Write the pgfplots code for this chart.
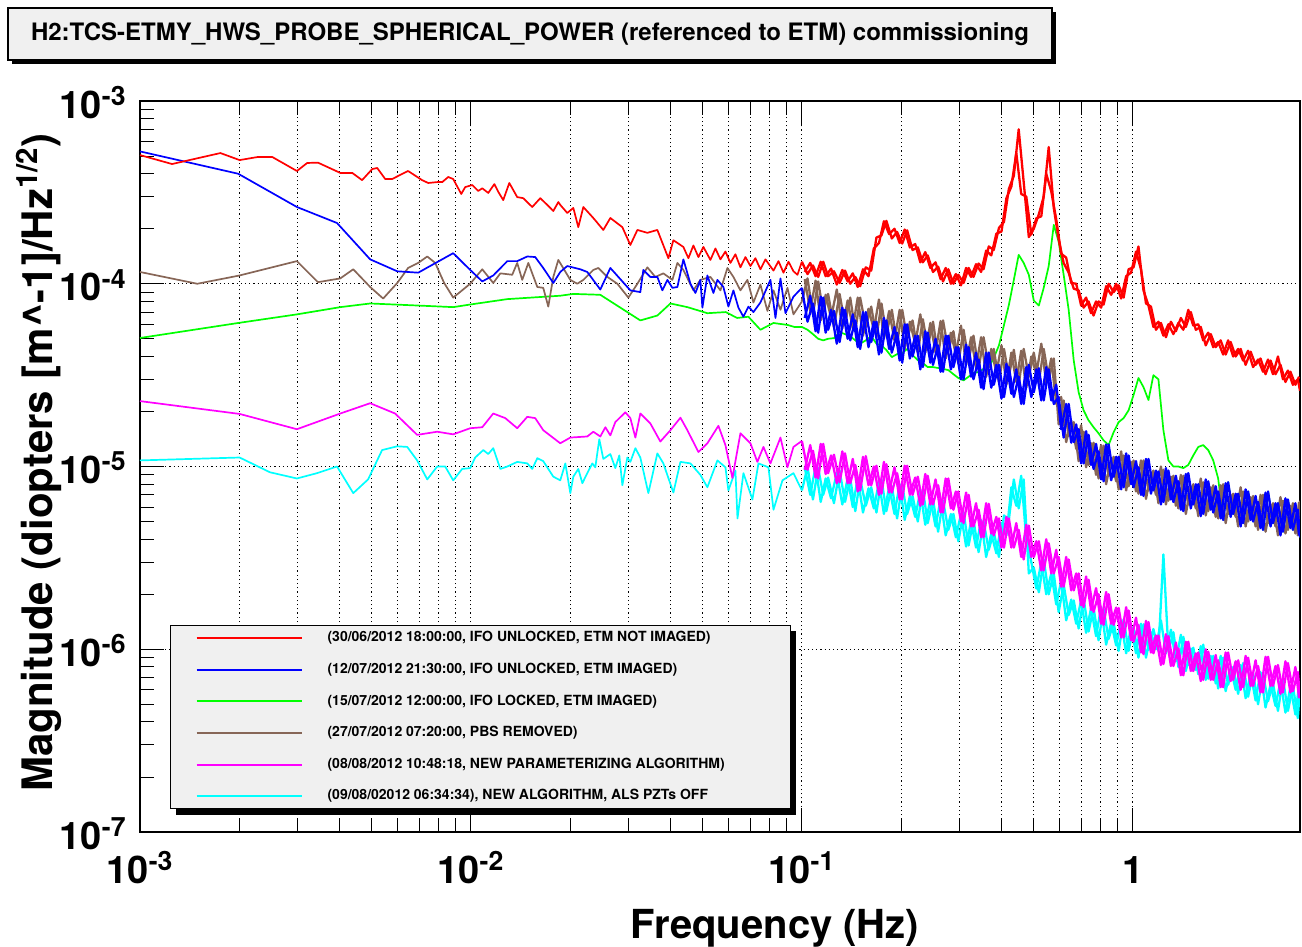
\documentclass[border=0pt]{standalone}
\usepackage{fontspec}
\setmainfont{TeX Gyre Heros}
\usepackage{pgfplots}
\pgfplotsset{compat=1.18}
\usepackage{pgfplotstable}
\definecolor{rootred}{RGB}{255,0,0}
\definecolor{rootblue}{RGB}{0,0,255}
\definecolor{rootgreen}{RGB}{0,255,0}
\definecolor{rootbrown}{RGB}{135,102,87}
\definecolor{rootmagenta}{RGB}{255,0,255}
\definecolor{rootcyan}{RGB}{0,255,255}
\definecolor{boxgray}{RGB}{240,240,240}

\pgfplotstableread{
f r b g n m c
0.100 1.32e-4 9.5e-5 5.8e-5 8.0e-5 1.38e-5 7.4e-6
0.104 1.13e-4 6.2e-5 5.6e-5 1.07e-4 9.6e-6 9.9e-6
0.108 1.26e-4 7.8e-5 5.3e-5 6.8e-5 1.22e-5 6.6e-6
0.112 1.09e-4 5.4e-5 5.0e-5 1.03e-4 8.6e-6 9.8e-6
0.116 1.32e-4 8.4e-5 4.9e-5 7.0e-5 1.33e-5 7.0e-6
0.120 1.10e-4 5.6e-5 5.0e-5 8.8e-5 9.2e-6 8.7e-6
0.125 1.17e-4 7.1e-5 5.04e-5 5.8e-5 1.16e-5 6.3e-6
0.130 1.01e-4 4.8e-5 5.44e-5 8.8e-5 8.2e-6 9.5e-6
0.135 1.18e-4 7.2e-5 5.3e-5 6.0e-5 1.18e-5 6.4e-6
0.140 1.0e-4 4.9e-5 5.17e-5 8.4e-5 8.1e-6 8.6e-6
0.145 1.09e-4 6.3e-5 4.9e-5 5.5e-5 1.02e-5 5.7e-6
0.150 9.7e-5 4.4e-5 4.7e-5 8.4e-5 7.4e-6 8.5e-6
0.156 1.23e-4 7.0e-5 4.9e-5 5.8e-5 1.14e-5 6.1e-6
0.162 1.18e-4 4.8e-5 5.17e-5 7.5e-5 7.9e-6 7.7e-6
0.168 1.79e-4 6.2e-5 4.7e-5 5.1e-5 1.01e-5 5.6e-6
0.174 1.84e-4 4.2e-5 4.6e-5 7.8e-5 7.1e-6 8.5e-6
0.180 2.21e-4 6.3e-5 4.34e-5 5.3e-5 1.03e-5 5.7e-6
0.187 1.77e-4 4.2e-5 3.97e-5 7.2e-5 7.2e-6 7.8e-6
0.194 1.92e-4 5.4e-5 4.12e-5 4.7e-5 9.2e-6 5.2e-6
0.201 1.66e-4 3.7e-5 4.17e-5 7.2e-5 6.6e-6 7.9e-6
0.208 1.96e-4 6.0e-5 4.4e-5 5.0e-5 1.01e-5 5.5e-6
0.216 1.53e-4 4.0e-5 4.07e-5 6.3e-5 7.0e-6 6.9e-6
0.224 1.58e-4 5.2e-5 3.82e-5 4.2e-5 8.8e-6 5.0e-6
0.232 1.31e-4 3.5e-5 3.68e-5 6.4e-5 6.2e-6 7.5e-6
0.240 1.43e-4 5.4e-5 3.5e-5 4.5e-5 8.9e-6 4.9e-6
0.249 1.16e-4 3.6e-5 3.5e-5 6.2e-5 6.2e-6 6.6e-6
0.258 1.24e-4 4.6e-5 3.46e-5 4.0e-5 7.9e-6 4.4e-6
0.267 1.03e-4 3.3e-5 3.42e-5 6.3e-5 5.6e-6 6.5e-6
0.277 1.20e-4 5.2e-5 3.37e-5 4.3e-5 8.6e-6 4.5e-6
0.287 1.0e-4 3.5e-5 3.2e-5 5.5e-5 5.8e-6 5.5e-6
0.297 1.12e-4 4.5e-5 3.05e-5 3.65e-5 7.3e-6 3.9e-6
0.308 1.01e-4 3.0e-5 2.96e-5 5.6e-5 4.9e-6 5.6e-6
0.319 1.22e-4 4.5e-5 3.1e-5 3.8e-5 7.0e-6 3.7e-6
0.330 1.09e-4 3.0e-5 3.25e-5 5.2e-5 4.7e-6 5.1e-6
0.342 1.29e-4 3.85e-5 3.29e-5 3.4e-5 5.8e-6 3.4e-6
0.354 1.20e-4 2.65e-5 3.42e-5 5.1e-5 4.1e-6 5.0e-6
0.367 1.60e-4 4.2e-5 3.5e-5 3.5e-5 6.25e-6 3.5e-6
0.380 1.53e-4 2.8e-5 3.92e-5 4.4e-5 4.2e-6 4.4e-6
0.394 2.02e-4 3.6e-5 4.6e-5 2.9e-5 5.2e-6 3.2e-6
0.408 2.18e-4 2.4e-5 5.94e-5 4.4e-5 3.6e-6 5.4e-6
0.422 3.3e-4 3.5e-5 7.64e-5 3.1e-5 5.2e-6 5.1e-6
0.437 3.9e-4 2.4e-5 1.05e-4 4.35e-5 3.6e-6 8.5e-6
0.452 7.0e-4 3.1e-5 1.44e-4 2.8e-5 4.5e-6 5.9e-6
0.468 3.6e-4 2.2e-5 1.3e-4 4.4e-5 3.1e-6 8.5e-6
0.485 1.8e-4 3.6e-5 1.12e-4 3.1e-5 4.75e-6 2.6e-6
0.502 2.0e-4 2.55e-5 8.1e-5 4.2e-5 3.2e-6 2.8e-6
0.520 2.4e-4 3.45e-5 7.6e-5 2.9e-5 3.9e-6 2.05e-6
0.538 3.0e-4 2.3e-5 9.5e-5 4.4e-5 2.7e-6 3.1e-6
0.557 5.6e-4 3.4e-5 1.25e-4 3.0e-5 3.8e-6 2.0e-6
0.577 2.6e-4 2.2e-5 2.1e-4 3.9e-5 2.6e-6 2.6e-6
0.597 1.75e-4 2.4e-5 1.7e-4 1.7e-5 3.2e-6 1.6e-6
0.618 1.3e-4 1.44e-5 1.12e-4 2.3e-5 2.2e-6 2.26e-6
0.640 1.15e-4 2.2e-5 7.2e-5 1.47e-5 3.1e-6 1.54e-6
0.663 9.4e-5 1.36e-5 3.8e-5 1.75e-5 2.1e-6 1.85e-6
0.686 9.2e-5 1.6e-5 2.55e-5 1.07e-5 2.6e-6 1.3e-6
0.710 7.4e-5 1.04e-5 2.03e-5 1.55e-5 1.7e-6 1.9e-6
0.735 8.0e-5 1.49e-5 1.79e-5 1.02e-5 2.4e-6 1.25e-6
0.761 6.7e-5 9.7e-6 1.64e-5 1.35e-5 1.6e-6 1.69e-6
0.788 8.0e-5 1.21e-5 1.52e-5 8.6e-6 2.0e-6 1.12e-6
0.816 7.7e-5 8.3e-6 1.39e-5 1.3e-5 1.36e-6 1.66e-6
0.845 1.0e-4 1.32e-5 1.31e-5 8.9e-6 2.0e-6 1.14e-6
0.875 9.0e-5 8.8e-6 1.54e-5 1.13e-5 1.36e-6 1.4e-6
0.906 9.8e-5 1.13e-5 1.75e-5 7.5e-6 1.68e-6 9.8e-7
0.938 8.4e-5 7.7e-6 1.84e-5 1.15e-5 1.16e-6 1.46e-6
0.971 1.2e-4 1.15e-5 2.03e-5 7.8e-6 1.63e-6 9.8e-7
1.005 1.23e-4 7.7e-6 2.46e-5 1.08e-5 1.1e-6 1.33e-6
1.040 1.6e-4 9.9e-6 3.05e-5 7.1e-6 1.36e-6 9.0e-7
1.077 9.2e-5 6.9e-6 2.72e-5 1.08e-5 9.4e-7 1.37e-6
1.115 7.6e-5 1.1e-5 2.31e-5 7.4e-6 1.41e-6 9.9e-7
1.154 5.8e-5 7.4e-6 3.16e-5 9.5e-6 9.5e-7 1.29e-6
1.195 6.2e-5 9.4e-6 3.0e-5 6.3e-6 1.19e-6 9.8e-7
1.237 5.2e-5 6.4e-6 1.58e-5 9.6e-6 8.3e-7 3.3e-6
1.281 6.0e-5 9.5e-6 1.08e-5 6.5e-6 1.18e-6 9.8e-7
1.326 5.3e-5 6.4e-6 1.0e-5 8.9e-6 8.1e-7 1.24e-6
1.373 6.1e-5 8.3e-6 1.0e-5 5.9e-6 1.01e-6 8.0e-7
1.421 5.6e-5 5.7e-6 9.8e-6 8.9e-6 7.2e-7 1.17e-6
1.471 7.2e-5 9.2e-6 1.02e-5 6.2e-6 1.1e-6 8.2e-7
1.523 5.9e-5 6.2e-6 1.15e-5 8.0e-6 7.6e-7 1.02e-6
1.577 6.0e-5 8.0e-6 1.28e-5 5.35e-6 9.6e-7 7.3e-7
1.632 4.9e-5 5.5e-6 1.31e-5 8.2e-6 6.8e-7 1.06e-6
1.690 5.4e-5 8.3e-6 1.23e-5 5.7e-6 9.7e-7 6.9e-7
1.750 4.5e-5 5.6e-6 1.08e-5 7.9e-6 6.8e-7 9.2e-7
1.811 4.8e-5 7.3e-6 8.6e-6 5.2e-6 8.7e-7 6.1e-7
1.875 4.1e-5 5.1e-6 5.1e-6 8.0e-6 6.2e-7 9.0e-7
1.941 4.9e-5 8.2e-6 8.2e-6 5.5e-6 9.6e-7 6.4e-7
2.010 4.0e-5 5.5e-6 5.5e-6 7.1e-6 6.8e-7 8.0e-7
2.081 4.4e-5 7.1e-6 7.1e-6 4.7e-6 8.7e-7 5.7e-7
2.154 3.8e-5 4.9e-6 4.9e-6 7.3e-6 6.2e-7 8.4e-7
2.230 4.3e-5 7.3e-6 7.3e-6 5.0e-6 9.0e-7 5.5e-7
2.309 3.5e-5 5.0e-6 5.0e-6 6.9e-6 6.3e-7 7.4e-7
2.390 3.85e-5 6.4e-6 6.4e-6 4.5e-6 8.1e-7 5.0e-7
2.474 3.3e-5 4.5e-6 4.5e-6 7.0e-6 5.8e-7 7.3e-7
2.562 3.85e-5 7.3e-6 7.3e-6 4.9e-6 9.1e-7 5.2e-7
2.652 3.2e-5 4.9e-6 4.9e-6 6.3e-6 6.3e-7 6.5e-7
2.745 4.0e-5 6.3e-6 6.3e-6 4.2e-6 8.2e-7 4.6e-7
2.842 3.0e-5 4.4e-6 4.4e-6 6.5e-6 5.8e-7 6.9e-7
2.942 3.35e-5 6.6e-6 6.6e-6 4.5e-6 8.4e-7 4.6e-7
3.046 2.8e-5 4.5e-6 4.5e-6 6.3e-6 5.9e-7 6.3e-7
3.153 3.0e-5 5.8e-6 5.8e-6 4.2e-6 7.5e-7 4.2e-7
3.200 2.6e-5 4.1e-6 4.1e-6 6.5e-6 5.4e-7 6.3e-7
}\hightab

\pgfplotstableread{
f r b n m c
0.102 1.16e-4 6.5e-5 1.06e-4 9.6e-6 9.9e-6
0.106 1.30e-4 8.6e-5 7.1e-5 1.31e-5 7.0e-6
0.110 1.10e-4 5.5e-5 1.04e-4 8.7e-6 1.0e-5
0.114 1.32e-4 8.5e-5 6.3e-5 1.33e-5 6.4e-6
0.118 1.10e-4 5.4e-5 8.7e-5 9.1e-6 8.6e-6
0.1225 1.21e-4 7.2e-5 6.5e-5 1.15e-5 6.7e-6
0.1275 9.9e-5 4.7e-5 9.3e-5 8.1e-6 9.2e-6
0.1325 1.19e-4 7.4e-5 5.7e-5 1.21e-5 6.2e-6
0.1375 1.03e-4 5.0e-5 8.1e-5 8.1e-6 8.6e-6
0.1425 1.14e-4 6.8e-5 5.7e-5 1.1e-5 6.0e-6
0.1475 9.6e-5 4.5e-5 8.4e-5 7.3e-6 8.7e-6
0.153 1.20e-4 7.0e-5 5.2e-5 1.13e-5 5.6e-6
0.159 1.10e-4 4.5e-5 7.3e-5 7.9e-6 7.6e-6
0.165 1.56e-4 6.2e-5 5.6e-5 1.0e-5 5.9e-6
0.171 1.67e-4 4.1e-5 8.2e-5 7.0e-6 8.2e-6
0.177 2.20e-4 6.5e-5 5.0e-5 1.06e-5 5.5e-6
0.1835 1.87e-4 4.4e-5 7.1e-5 7.2e-6 7.7e-6
0.1905 2.00e-4 5.8e-5 4.9e-5 9.9e-6 5.5e-6
0.1975 1.67e-4 3.8e-5 7.2e-5 6.6e-6 8.0e-6
0.2045 1.98e-4 6.0e-5 4.4e-5 1.01e-5 5.1e-6
0.212 1.58e-4 3.9e-5 6.2e-5 7.0e-6 6.9e-6
0.220 1.65e-4 5.2e-5 4.7e-5 8.7e-6 5.3e-6
0.228 1.31e-4 3.4e-5 6.8e-5 6.1e-6 7.3e-6
0.236 1.49e-4 5.5e-5 4.2e-5 9.1e-6 4.8e-6
0.2445 1.22e-4 3.7e-5 6.1e-5 6.2e-6 6.6e-6
0.2535 1.31e-4 5.0e-5 4.2e-5 8.5e-6 4.7e-6
0.2625 1.06e-4 3.3e-5 6.25e-5 5.6e-6 6.6e-6
0.272 1.22e-4 5.2e-5 3.9e-5 8.6e-6 4.2e-6
0.282 1.0e-4 3.4e-5 5.4e-5 5.9e-6 5.5e-6
0.292 1.13e-4 4.5e-5 4.1e-5 7.3e-6 4.1e-6
0.3025 9.8e-5 3.0e-5 5.9e-5 5.0e-6 5.5e-6
0.3135 1.22e-4 4.65e-5 3.6e-5 7.2e-6 3.65e-6
0.3245 1.09e-4 3.1e-5 5.1e-5 4.7e-6 5.0e-6
0.336 1.28e-4 4.2e-5 3.5e-5 6.3e-6 3.6e-6
0.348 1.16e-4 2.7e-5 5.1e-5 4.1e-6 5.1e-6
0.3605 1.52e-4 4.2e-5 3.1e-5 6.3e-6 3.2e-6
0.3735 1.43e-4 2.7e-5 4.4e-5 4.3e-6 4.3e-6
0.387 1.88e-4 3.6e-5 3.25e-5 5.3e-6 3.35e-6
0.401 1.93e-4 2.35e-5 4.6e-5 3.6e-6 4.9e-6
0.415 2.94e-4 3.65e-5 2.8e-5 5.3e-6 4.2e-6
0.4295 3.4e-4 2.5e-5 4.2e-5 3.6e-6 7.7e-6
0.4445 5.2e-4 3.4e-5 2.9e-5 4.9e-6 6.1e-6
0.460 3.1e-4 2.2e-5 4.3e-5 3.2e-6 8.9e-6
0.4765 3.0e-4 3.5e-5 2.7e-5 4.8e-6 4.0e-6
0.4935 1.86e-4 2.4e-5 4.0e-5 3.2e-6 3.0e-6
0.511 2.28e-4 3.4e-5 3.2e-5 3.9e-6 2.15e-6
0.529 2.34e-4 2.3e-5 4.7e-5 2.7e-6 3.0e-6
0.5475 4.0e-4 3.5e-5 2.85e-5 4.0e-6 2.0e-6
0.567 3.2e-4 2.3e-5 3.9e-5 2.6e-6 2.6e-6
0.587 2.25e-4 2.8e-5 2.2e-5 3.5e-6 1.76e-6
0.6075 1.46e-4 1.6e-5 2.4e-5 2.2e-6 2.36e-6
0.629 1.39e-4 2.2e-5 1.36e-5 3.2e-6 1.44e-6
0.6515 1.01e-4 1.35e-5 1.78e-5 2.1e-6 1.87e-6
0.6745 1.0e-4 1.7e-5 1.25e-5 2.6e-6 1.38e-6
0.698 7.6e-5 1.04e-5 1.68e-5 1.74e-6 1.86e-6
0.7225 8.4e-5 1.56e-5 9.9e-6 2.5e-6 1.23e-6
0.748 6.9e-5 1.02e-5 1.34e-5 1.64e-6 1.68e-6
0.7745 8.0e-5 1.33e-5 9.0e-6 2.16e-6 1.18e-6
0.802 7.4e-5 8.5e-6 1.31e-5 1.38e-6 1.7e-6
0.8305 9.7e-5 1.32e-5 8.0e-6 2.06e-6 1.06e-6
0.860 8.7e-5 8.4e-6 1.11e-5 1.38e-6 1.4e-6
0.8905 1.0e-4 1.13e-5 8.3e-6 1.69e-6 1.05e-6
0.922 8.3e-5 7.5e-6 1.21e-5 1.16e-6 1.42e-6
0.9545 1.1e-4 1.18e-5 7.4e-6 1.7e-6 9.5e-7
0.988 1.15e-4 8.0e-6 1.06e-5 1.12e-6 1.32e-6
1.0225 1.5e-4 1.07e-5 7.3e-6 1.49e-6 9.5e-7
1.0585 1.2e-4 7.0e-6 1.08e-5 9.6e-7 1.38e-6
1.096 7.8e-5 1.1e-5 6.65e-6 1.43e-6 9.0e-7
1.1345 7.5e-5 7.1e-6 9.3e-6 9.6e-7 1.24e-6
1.1745 5.6e-5 9.5e-6 7.0e-6 1.19e-6 1.0e-6
1.216 6.1e-5 6.2e-6 1.0e-5 8.2e-7 1.44e-6
1.259 5.1e-5 9.8e-6 6.2e-6 1.21e-6 9.5e-7
1.3035 6.2e-5 6.6e-6 8.8e-6 8.1e-7 1.28e-6
1.3495 5.5e-5 8.9e-6 6.1e-6 1.09e-6 8.6e-7
1.397 6.5e-5 5.8e-6 9.0e-6 7.2e-7 1.2e-6
1.446 5.8e-5 9.1e-6 5.5e-6 1.1e-6 7.6e-7
1.497 7.0e-5 5.9e-6 7.8e-6 7.6e-7 1.01e-6
1.55 5.6e-5 8.0e-6 5.9e-6 9.5e-7 7.7e-7
1.6045 5.8e-5 5.35e-6 8.6e-6 6.7e-7 1.04e-6
1.661 4.6e-5 8.5e-6 5.4e-6 1.0e-6 6.8e-7
1.72 5.3e-5 5.8e-6 7.7e-6 6.8e-7 9.2e-7
1.7805 4.5e-5 7.8e-6 5.3e-6 9.3e-7 6.5e-7
1.843 4.9e-5 5.2e-6 7.9e-6 6.2e-7 9.2e-7
1.908 4.1e-5 8.1e-6 4.9e-6 9.6e-7 5.9e-7
1.9755 4.8e-5 5.3e-6 7.0e-6 6.7e-7 7.9e-7
2.0455 4.0e-5 7.1e-6 5.3e-6 8.6e-7 6.0e-7
2.1175 4.4e-5 4.7e-6 7.7e-6 6.0e-7 8.2e-7
2.192 3.6e-5 7.5e-6 4.7e-6 9.2e-7 5.4e-7
2.2695 4.25e-5 5.1e-6 6.8e-6 6.3e-7 7.4e-7
2.3495 3.6e-5 6.9e-6 4.7e-6 8.7e-7 5.25e-7
2.432 3.9e-5 4.6e-6 7.0e-6 5.8e-7 7.5e-7
2.518 3.2e-5 7.2e-6 4.4e-6 9.1e-7 4.8e-7
2.607 3.8e-5 4.7e-6 6.2e-6 6.3e-7 6.4e-7
2.6985 3.2e-5 6.3e-6 4.7e-6 8.1e-7 4.9e-7
2.7935 3.6e-5 4.2e-6 6.8e-6 5.7e-7 6.7e-7
2.892 2.9e-5 6.7e-6 4.3e-6 8.6e-7 4.5e-7
2.994 3.3e-5 4.6e-6 6.1e-6 5.8e-7 6.2e-7
3.0995 2.8e-5 6.3e-6 4.3e-6 8.0e-7 4.4e-7
3.18 3.1e-5 4.2e-6 6.4e-6 5.4e-7 6.4e-7
}\midtab

\begin{document}
\begin{tikzpicture}
\useasboundingbox (-70pt,-57.5pt) rectangle (581pt,416pt);
\begin{axis}[
  at={(0pt,0pt)}, anchor=south west,
  scale only axis, width=580pt, height=365.5pt,
  xmode=log, ymode=log,
  xmin=1e-3, xmax=3.2, ymin=1e-7, ymax=1e-3,
  xtick={1e-3,1e-2,1e-1,1},
  xticklabels={10\textsuperscript{-3},10\textsuperscript{-2},10\textsuperscript{-1},1},
  ytick={1e-7,1e-6,1e-5,1e-4,1e-3},
  yticklabels={10\textsuperscript{-7},10\textsuperscript{-6},10\textsuperscript{-5},10\textsuperscript{-4},10\textsuperscript{-3}},
  xtick pos=both, ytick pos=left,
  xmajorgrids=true, xminorgrids=true, ymajorgrids=true, yminorgrids=false,
  grid style={black, line width=0.55pt, dash pattern=on 0.6pt off 1.5pt},
  minor grid style={black, line width=0.55pt, dash pattern=on 0.6pt off 1.5pt},
  major grid style={black, line width=0.55pt, dash pattern=on 0.6pt off 1.5pt},
  major tick length=12pt, minor tick length=7pt,
  tick style={black, line width=0.5pt},
  axis line style={line width=0.9pt},
  tick label style={font=\fontsize{19}{22}\selectfont\bfseries, inner sep=0pt},
  xticklabel style={anchor=base, yshift=-25.5pt},
  yticklabel style={anchor=base east, xshift=-6.5pt, yshift=-8.5pt},
  xlabel={Frequency (Hz)},
  xlabel style={at={(axis description cs:0.5474,-0.145)}, anchor=base, font=\fontsize{20}{24}\selectfont\bfseries, inner sep=0pt},
  ylabel={Magnitude (diopters [m\textasciicircum{}-1]/Hz\textsuperscript{1/2})},
  ylabel style={at={(axis description cs:-0.075,0.5055)}, anchor=base, font=\fontsize{21}{25}\selectfont\bfseries, inner sep=0pt},
  every axis plot/.append style={line width=0.85pt, line join=round},
  noisy/.style={line width=1.15pt},
  legend cell align=left,
  legend image code/.code={\draw[#1] (0pt,0pt) -- (52.5pt,0pt); \path (65pt,0pt);},
  legend style={at={(axis description cs:0.02586,0.2832)}, anchor=north west,
    draw=black, line width=0.6pt, fill=boxgray,
    inner xsep=12.5pt, inner ysep=0.3pt, row sep=3.8pt,
    nodes={inner sep=0pt, minimum height=12pt},
    font=\fontsize{7}{8}\selectfont\bfseries},
]
% ---- green ----
\addplot[rootgreen, forget plot] coordinates {
(0.00100,5.05e-5) (0.00198,6.1e-5) (0.00298,6.8e-5) (0.00403,7.45e-5) (0.00496,7.8e-5)
(0.00693,7.6e-5) (0.00884,7.45e-5) (0.00995,7.7e-5) (0.01288,8.24e-5) (0.01862,8.6e-5)
(0.02039,8.8e-5) (0.02460,8.7e-5) (0.03250,6.3e-5) (0.03659,6.7e-5) (0.04007,7.8e-5)
(0.04508,7.45e-5) (0.05182,6.9e-5) (0.0589,7.0e-5) (0.0637,6.5e-5) (0.06894,6.6e-5)
(0.07496,5.6e-5) (0.08207,6.1e-5) (0.0906,5.95e-5) (0.0950,5.8e-5) (0.100,5.8e-5)};
\addplot[rootgreen, forget plot] table[x=f,y=g] {\hightab};
% ---- brown ----
\addplot[rootbrown, forget plot] coordinates {
(0.00100,1.16e-4) (0.00149,1.0e-4) (0.00200,1.11e-4) (0.00298,1.33e-4) (0.00345,1.02e-4)
(0.00403,1.07e-4) (0.00441,1.2e-4) (0.00496,9.6e-5) (0.00543,8.3e-5) (0.00599,1.01e-4)
(0.00646,1.22e-4) (0.00693,1.3e-4) (0.00738,1.41e-4) (0.0078,1.3e-4) (0.0083,1.01e-4)
(0.00884,8.4e-5) (0.00995,1.0e-4) (0.01082,1.2e-4) (0.01168,1.01e-4) (0.01227,1.14e-4)
(0.01333,1.12e-4) (0.0138,1.3e-4) (0.01429,1.05e-4) (0.01491,1.3e-4) (0.01587,9.6e-5)
(0.01654,9.5e-5) (0.01713,7.5e-5) (0.01774,1.09e-4) (0.01837,1.35e-4) (0.01997,1.05e-4)
(0.02096,1.0e-4) (0.02186,1.05e-4) (0.02343,1.19e-4) (0.02426,1.22e-4) (0.02584,1.09e-4)
(0.02770,1.0e-4) (0.0299,8.4e-5) (0.03184,1.0e-4) (0.03413,1.23e-4) (0.03608,1.09e-4)
(0.03815,1.14e-4) (0.04062,1.05e-4) (0.04206,1.3e-4) (0.04385,1.19e-4) (0.04701,9.2e-5)
(0.04935,1.05e-4) (0.05292,1.09e-4) (0.05674,9.2e-5) (0.05957,1.22e-4) (0.06211,1.09e-4)
(0.06521,9.2e-5) (0.06846,1.05e-4) (0.07139,7.9e-5) (0.07496,9.9e-5) (0.0787,7.1e-5)
(0.08207,9.2e-5) (0.08616,7.2e-5) (0.09045,9.5e-5) (0.09432,6.8e-5) (0.100,8.0e-5)};
\addplot[rootbrown, noisy, forget plot] table[x=f,y=n] {\hightab};
\addplot[rootbrown, noisy, forget plot] table[x=f,y=n] {\midtab};
% ---- blue ----
\addplot[rootblue, forget plot] coordinates {
(0.00100,5.3e-4) (0.00198,4.0e-4) (0.00298,2.63e-4) (0.00394,2.15e-4) (0.00496,1.36e-4)
(0.00599,1.17e-4) (0.00693,1.15e-4) (0.00884,1.47e-4) (0.00995,1.19e-4) (0.01082,1.03e-4)
(0.01168,1.11e-4) (0.01288,1.33e-4) (0.01380,1.33e-4) (0.01480,1.41e-4) (0.01564,1.40e-4)
(0.01654,1.22e-4) (0.01774,1.01e-4) (0.01862,1.16e-4) (0.01955,1.25e-4) (0.02140,1.2e-4)
(0.02247,1.16e-4) (0.02460,9.3e-5) (0.02638,1.22e-4) (0.03032,9.2e-5) (0.03250,9.0e-5)
(0.03319,1.19e-4) (0.03485,1.09e-4) (0.03659,1.09e-4) (0.03789,9.2e-5) (0.03924,1.05e-4)
(0.04062,9.5e-5) (0.04206,9.6e-5) (0.04385,1.36e-4) (0.04605,1.0e-4) (0.04768,8.9e-5)
(0.04935,1.05e-4) (0.05005,7.4e-5) (0.05182,1.11e-4) (0.05404,8.9e-5) (0.05556,1.05e-4)
(0.05793,9.6e-5) (0.05998,7.5e-5) (0.06211,9.2e-5) (0.06431,7.4e-5) (0.06659,6.6e-5)
(0.06894,7.5e-5) (0.07139,7.0e-5) (0.07496,7.9e-5) (0.08035,1.05e-4) (0.08322,6.5e-5)
(0.08616,1.07e-4) (0.08921,6.9e-5) (0.09432,8.5e-5) (0.100,9.5e-5)};
\addplot[rootblue, noisy, forget plot] table[x=f,y=b] {\hightab};
\addplot[rootblue, noisy, forget plot] table[x=f,y=b] {\midtab};
% ---- red ----
\addplot[rootred, forget plot] coordinates {
(0.00100,5.06e-4) (0.00125,4.52e-4) (0.00175,5.19e-4) (0.00200,4.75e-4) (0.00227,4.94e-4)
(0.00251,4.94e-4) (0.00298,4.14e-4) (0.0032,4.58e-4) (0.00345,4.6e-4) (0.00403,4.04e-4)
(0.00438,4.04e-4) (0.00469,3.69e-4) (0.00503,4.24e-4) (0.00521,4.3e-4) (0.00551,3.74e-4)
(0.00578,3.74e-4) (0.00611,3.94e-4) (0.00646,4.14e-4) (0.00712,3.69e-4) (0.00743,3.56e-4)
(0.00791,3.6e-4) (0.00819,3.6e-4) (0.00854,3.84e-4) (0.00884,3.74e-4) (0.00935,3.1e-4)
(0.00961,3.38e-4) (0.01009,3.47e-4) (0.01052,3.22e-4) (0.01082,3.33e-4) (0.01128,3.14e-4)
(0.01177,3.51e-4) (0.01210,3.18e-4) (0.01252,2.87e-4) (0.01306,3.56e-4) (0.01380,2.98e-4)
(0.01439,2.94e-4) (0.01532,2.63e-4) (0.01620,2.94e-4) (0.01701,2.7e-4) (0.01774,2.5e-4)
(0.01837,2.8e-4) (0.01862,2.7e-4) (0.01955,2.44e-4) (0.02039,2.6e-4) (0.02111,2.04e-4)
(0.02186,2.63e-4) (0.02343,2.29e-4) (0.02512,1.97e-4) (0.02638,2.29e-4) (0.02868,2.04e-4)
(0.03032,1.63e-4) (0.03184,1.97e-4) (0.03413,1.9e-4) (0.03659,1.97e-4) (0.03951,1.38e-4)
(0.04090,1.73e-4) (0.04385,1.59e-4) (0.04541,1.38e-4) (0.04701,1.62e-4) (0.04868,1.40e-4)
(0.05040,1.59e-4) (0.05292,1.35e-4) (0.0548,1.56e-4) (0.05674,1.36e-4) (0.05875,1.50e-4)
(0.06083,1.30e-4) (0.06298,1.45e-4) (0.06521,1.23e-4) (0.06752,1.40e-4) (0.06992,1.25e-4)
(0.07239,1.38e-4) (0.07496,1.20e-4) (0.07761,1.36e-4) (0.08207,1.18e-4) (0.08498,1.33e-4)
(0.08799,1.15e-4) (0.09112,1.32e-4) (0.09432,1.17e-4) (0.09698,1.12e-4) (0.100,1.32e-4)};
\addplot[rootred, noisy, forget plot] table[x=f,y=r] {\hightab};
\addplot[rootred, noisy, forget plot] table[x=f,y=r] {\midtab};
% ---- cyan ----
\addplot[rootcyan, forget plot] coordinates {
(0.00100,1.08e-5) (0.00200,1.12e-5) (0.00247,9.3e-6) (0.00298,8.6e-6) (0.00343,9.2e-6)
(0.00394,1.0e-5) (0.00441,7.15e-6) (0.00489,8.5e-6) (0.00539,1.23e-5) (0.00599,1.29e-5)
(0.00642,1.28e-5) (0.00688,1.08e-5) (0.00738,8.5e-6) (0.00791,1.0e-5) (0.00836,1.0e-5)
(0.00884,8.4e-6) (0.00941,9.7e-6) (0.00995,9.8e-6) (0.0103,1.12e-5) (0.0109,1.23e-5)
(0.01128,1.17e-5) (0.01168,1.26e-5) (0.01227,9.7e-6) (0.01288,1.0e-5) (0.0138,1.06e-5)
(0.0148,1.04e-5) (0.01532,9.7e-6) (0.01587,1.11e-5) (0.01654,1.07e-5) (0.01774,8.8e-6)
(0.01862,8.4e-6) (0.01929,1.04e-5) (0.01997,7.15e-6) (0.02039,8.8e-6) (0.02111,9.7e-6)
(0.02171,8.1e-6) (0.02247,9.2e-6) (0.02327,1.04e-5) (0.02376,9.9e-6) (0.02443,1.41e-5)
(0.02512,1.1e-5) (0.02638,1.17e-5) (0.02731,9.8e-6) (0.02808,1.15e-5) (0.02868,7.9e-6)
(0.02969,1.12e-5) (0.03032,1.06e-5) (0.0314,1.26e-5) (0.0325,1.12e-5) (0.03437,7.15e-6)
(0.03659,1.18e-5) (0.03815,1.04e-5) (0.0409,7.2e-6) (0.04296,1.06e-5) (0.04605,1.04e-5)
(0.04935,9.0e-6) (0.05182,7.7e-6) (0.05556,1.08e-5) (0.05875,9.9e-6) (0.05998,7.4e-6)
(0.06298,9.5e-6) (0.06389,5.2e-6) (0.06659,9.2e-6) (0.07089,6.6e-6) (0.07393,1.04e-5)
(0.07925,9.9e-6) (0.08207,5.8e-6) (0.08737,8.4e-6) (0.09432,9.2e-6) (0.100,7.4e-6)};
\addplot[rootcyan, noisy, forget plot] table[x=f,y=c] {\hightab};
\addplot[rootcyan, noisy, forget plot] table[x=f,y=c] {\midtab};
% ---- magenta ----
\addplot[rootmagenta, forget plot] coordinates {
(0.00100,2.28e-5) (0.00200,1.94e-5) (0.00298,1.6e-5) (0.00403,1.95e-5) (0.00496,2.22e-5)
(0.0059,1.95e-5) (0.00688,1.49e-5) (0.00791,1.55e-5) (0.00884,1.5e-5) (0.00995,1.62e-5)
(0.01082,1.64e-5) (0.01168,1.95e-5) (0.0127,1.84e-5) (0.0138,1.62e-5) (0.0148,1.87e-5)
(0.01564,1.84e-5) (0.01654,1.58e-5) (0.01862,1.34e-5) (0.01997,1.44e-5) (0.02247,1.46e-5)
(0.02343,1.55e-5) (0.0246,1.46e-5) (0.02548,1.64e-5) (0.02638,1.48e-5) (0.02731,1.75e-5)
(0.02928,1.98e-5) (0.03032,1.84e-5) (0.0314,1.44e-5) (0.0325,1.95e-5) (0.03485,1.72e-5)
(0.03736,1.37e-5) (0.04007,1.58e-5) (0.04296,1.85e-5) (0.04508,1.58e-5) (0.04868,1.2e-5)
(0.05182,1.34e-5) (0.05595,1.67e-5) (0.05875,1.31e-5) (0.06168,8.65e-6) (0.06521,1.52e-5)
(0.06992,1.34e-5) (0.07338,1.06e-5) (0.07654,1.28e-5) (0.08035,1.04e-5) (0.08616,1.44e-5)
(0.09045,9.9e-6) (0.09432,1.28e-5) (0.100,1.38e-5)};
\addplot[rootmagenta, noisy, forget plot] table[x=f,y=m] {\hightab};
\addplot[rootmagenta, noisy, forget plot] table[x=f,y=m] {\midtab};
% legend shadow (drawn below the legend box)
\fill[black] (axis description cs:0.03103,0.27497) rectangle (axis description cs:0.5655,0.02326);
% ---- legend ----
\addlegendimage{rootred, line width=1pt}
\addlegendentry{\makebox[219pt][l]{(30/06/2012 18:00:00, IFO UNLOCKED, ETM NOT IMAGED)}}
\addlegendimage{rootblue, line width=1pt}
\addlegendentry{\makebox[219pt][l]{(12/07/2012 21:30:00, IFO UNLOCKED, ETM IMAGED)}}
\addlegendimage{rootgreen, line width=1pt}
\addlegendentry{\makebox[219pt][l]{(15/07/2012 12:00:00, IFO LOCKED, ETM IMAGED)}}
\addlegendimage{rootbrown, line width=1pt}
\addlegendentry{\makebox[219pt][l]{(27/07/2012 07:20:00, PBS REMOVED)}}
\addlegendimage{rootmagenta, line width=1pt}
\addlegendentry{\makebox[219pt][l]{(08/08/2012 10:48:18, NEW PARAMETERIZING ALGORITHM)}}
\addlegendimage{rootcyan, line width=1pt}
\addlegendentry{\makebox[219pt][l]{(09/08/02012 06:34:34), NEW ALGORITHM, ALS PZTs OFF}}
\end{axis}
\fill[black] (-64.2pt,384.2pt) rectangle (457.8pt,410.2pt);
\node[draw=black, line width=0.8pt, fill=boxgray, minimum width=522pt, minimum height=26pt,
  inner sep=0pt, font=\fontsize{12}{14}\selectfont\bfseries]
  at (195pt,399pt) {H2:TCS-ETMY\_HWS\_PROBE\_SPHERICAL\_POWER (referenced to ETM) commissioning};
\end{tikzpicture}
\end{document}
